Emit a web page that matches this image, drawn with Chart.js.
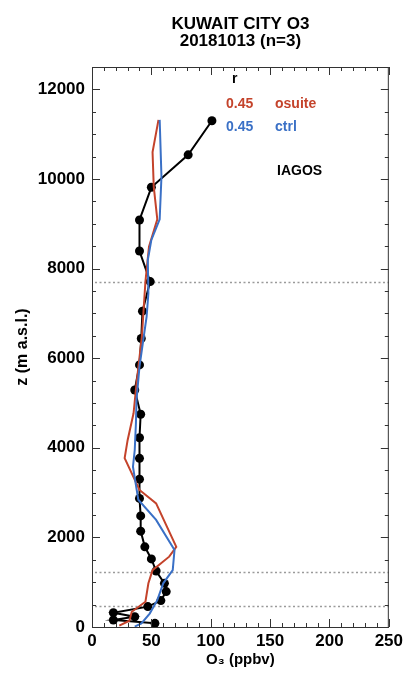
<!DOCTYPE html>
<html lang="en">
<head>
    <meta charset="UTF-8">
    <title>Kuwait City O3 profile</title>
    <script src="https://cdn.jsdelivr.net/npm/chart.js"></script>
    <style>
        body {
            margin: 0;
            background: #ffffff;
        }
        canvas {
            display: block;
        }
    </style>
</head>
<body>
    <canvas id="profileChart" width="407" height="673"></canvas>

    <script>
        // IAGOS observed profile (altitude m, ozone ppbv)
        const obsAlt = [11300, 10540, 9815, 9085, 8393, 7710, 7050, 6440, 5850, 5290, 4750, 4225, 3765, 3300, 2870, 2480, 2140, 1790, 1520, 1250, 975, 790, 590, 455, 320, 230, 156, 82];
        const obsO3  = [101, 81, 50, 40, 40, 49, 42.5, 41.5, 40, 36, 41, 40, 40, 40, 40, 41, 41, 44.5, 50, 54, 61, 62.5, 58, 47, 18, 36, 18, 53];

        // model osuite
        const osuiteAlt = [11320, 10600, 9830, 9100, 8490, 7710, 6480, 5440, 4770, 4170, 3770, 3060, 2760, 1790, 1570, 1270, 975, 565, 340, 140, 30];
        const osuiteO3  = [56, 51, 52, 55, 48, 45, 42, 37.5, 35, 30, 27.5, 40, 54, 71, 65, 51, 47.5, 45, 33.5, 31.5, 23];

        // model ctrl
        const ctrlAlt = [11320, 10050, 9100, 8640, 8190, 7450, 6930, 5810, 5070, 4550, 3950, 3580, 2840, 2390, 1720, 1270, 975, 600, 300, 82, 10];
        const ctrlO3  = [57, 58.5, 57, 50, 47, 47.5, 46, 40, 37.5, 37, 36, 34.5, 39, 54, 69.5, 68, 60, 55, 48.6, 41.6, 36];

        // correlation table
        const runNames = ['osuite', 'ctrl'];
        const runR = [0.45, 0.45];

        // dotted reference levels (m)
        const refLevels = [7710, 1230, 460];

        const xTicks = [0, 50, 100, 150, 200, 250];
        const yTicks = [0, 2000, 4000, 6000, 8000, 10000, 12000];

        const RED = '#c4432b';
        const BLUE = '#3a70c6';
        const FONT = '"Liberation Sans", Arial, sans-serif';

        function toPoints(alt, o3) {
            return alt.map((z, i) => ({ x: o3[i], y: z }));
        }

        // frame, inward ticks, dotted levels and text
        const framePlugin = {
            id: 'frame',
            beforeDatasetsDraw(chart) {
                const { ctx, chartArea: a, scales: { y } } = chart;
                ctx.save();
                ctx.strokeStyle = '#9a9a9a';
                ctx.lineWidth = 1.5;
                ctx.setLineDash([2, 2.5]);
                refLevels.forEach(z => {
                    const py = Math.round(y.getPixelForValue(z)) + 0.5;
                    ctx.beginPath();
                    ctx.moveTo(a.left + 3, py);
                    ctx.lineTo(a.right, py);
                    ctx.stroke();
                });
                ctx.restore();
            },
            afterDraw(chart) {
                const { ctx, chartArea: a, scales: { x, y } } = chart;
                ctx.save();
                ctx.strokeStyle = '#333';
                ctx.lineWidth = 1;
                ctx.strokeRect(a.left + 0.5, a.top + 0.5, a.right - a.left - 1, a.bottom - a.top);

                ctx.beginPath();
                for (let v = 0; v <= 250; v += 10) {
                    const px = Math.round(x.getPixelForValue(v)) + 0.5;
                    const len = v % 50 === 0 ? 8 : 4;
                    ctx.moveTo(px, a.bottom);
                    ctx.lineTo(px, a.bottom - len);
                    ctx.moveTo(px, a.top);
                    ctx.lineTo(px, a.top + len);
                }
                for (let z = 0; z <= 12500; z += 500) {
                    const py = Math.round(y.getPixelForValue(z)) + 0.5;
                    const len = z % 2000 === 0 ? 8 : 4;
                    ctx.moveTo(a.left, py);
                    ctx.lineTo(a.left + len, py);
                    ctx.moveTo(a.right, py);
                    ctx.lineTo(a.right - len, py);
                }
                ctx.stroke();

                // title
                const cx = (a.left + a.right) / 2;
                ctx.fillStyle = '#000';
                ctx.textAlign = 'center';
                ctx.textBaseline = 'middle';
                ctx.font = 'bold 17px ' + FONT;
                ctx.fillText('KUWAIT CITY O3', cx, 24);
                ctx.fillText('20181013 (n=3)', cx, 41);

                // r table
                ctx.textAlign = 'left';
                ctx.textBaseline = 'alphabetic';
                ctx.font = 'bold 14px ' + FONT;
                ctx.fillText('r', a.left + 140, a.top + 16);
                const colors = [RED, BLUE];
                runNames.forEach((name, i) => {
                    const by = a.top + 40.5 + i * 23;
                    ctx.fillStyle = colors[i];
                    ctx.fillText(runR[i].toFixed(2), a.left + 134, by);
                    ctx.fillText(name, a.left + 183, by);
                });
                ctx.fillStyle = '#000';
                ctx.fillText('IAGOS', a.left + 185, a.top + 108);
                ctx.restore();
            }
        };

        const ctx = document.getElementById('profileChart').getContext('2d');
        const profileChart = new Chart(ctx, {
            type: 'scatter',
            data: {
                datasets: [
                    {
                        label: 'IAGOS',
                        data: toPoints(obsAlt, obsO3),
                        showLine: true,
                        borderColor: '#000',
                        backgroundColor: '#000',
                        borderWidth: 2,
                        pointRadius: 4.5,
                        pointBorderWidth: 0,
                        order: 3
                    },
                    {
                        label: 'osuite',
                        data: toPoints(osuiteAlt, osuiteO3),
                        showLine: true,
                        borderColor: RED,
                        borderWidth: 2,
                        pointRadius: 0,
                        order: 2
                    },
                    {
                        label: 'ctrl',
                        data: toPoints(ctrlAlt, ctrlO3),
                        showLine: true,
                        borderColor: BLUE,
                        borderWidth: 2,
                        pointRadius: 0,
                        order: 1
                    }
                ]
            },
            options: {
                responsive: false,
                animation: false,
                layout: {
                    padding: { top: 67, right: 16.5, bottom: 0, left: 0 }
                },
                plugins: {
                    legend: { display: false },
                    tooltip: { enabled: false }
                },
                scales: {
                    x: {
                        type: 'linear',
                        min: 0,
                        max: 250,
                        afterBuildTicks: s => { s.ticks = xTicks.map(v => ({ value: v })); },
                        afterFit: s => { s.height = 46; },
                        grid: { display: false, drawTicks: false },
                        border: { display: false },
                        ticks: {
                            color: '#000',
                            padding: 4,
                            maxRotation: 0,
                            callback: v => String(v),
                            font: { family: FONT, size: 17, weight: 'bold' }
                        },
                        title: {
                            display: true,
                            text: 'O₃ (ppbv)',
                            color: '#000',
                            padding: { top: 0, bottom: 4 },
                            font: { family: FONT, size: 15, weight: 'bold' }
                        }
                    },
                    y: {
                        type: 'linear',
                        min: 0,
                        max: 12500,
                        afterBuildTicks: s => { s.ticks = yTicks.map(v => ({ value: v })); },
                        afterFit: s => { s.width = 92; },
                        grid: { display: false, drawTicks: false },
                        border: { display: false },
                        ticks: {
                            color: '#000',
                            padding: 7,
                            callback: v => String(v),
                            font: { family: FONT, size: 17, weight: 'bold' }
                        },
                        title: {
                            display: true,
                            text: 'z (m a.s.l.)',
                            color: '#000',
                            padding: { top: 13, bottom: 0 },
                            font: { family: FONT, size: 16, weight: 'bold' }
                        }
                    }
                }
            },
            plugins: [framePlugin]
        });
    </script>
</body>
</html>
